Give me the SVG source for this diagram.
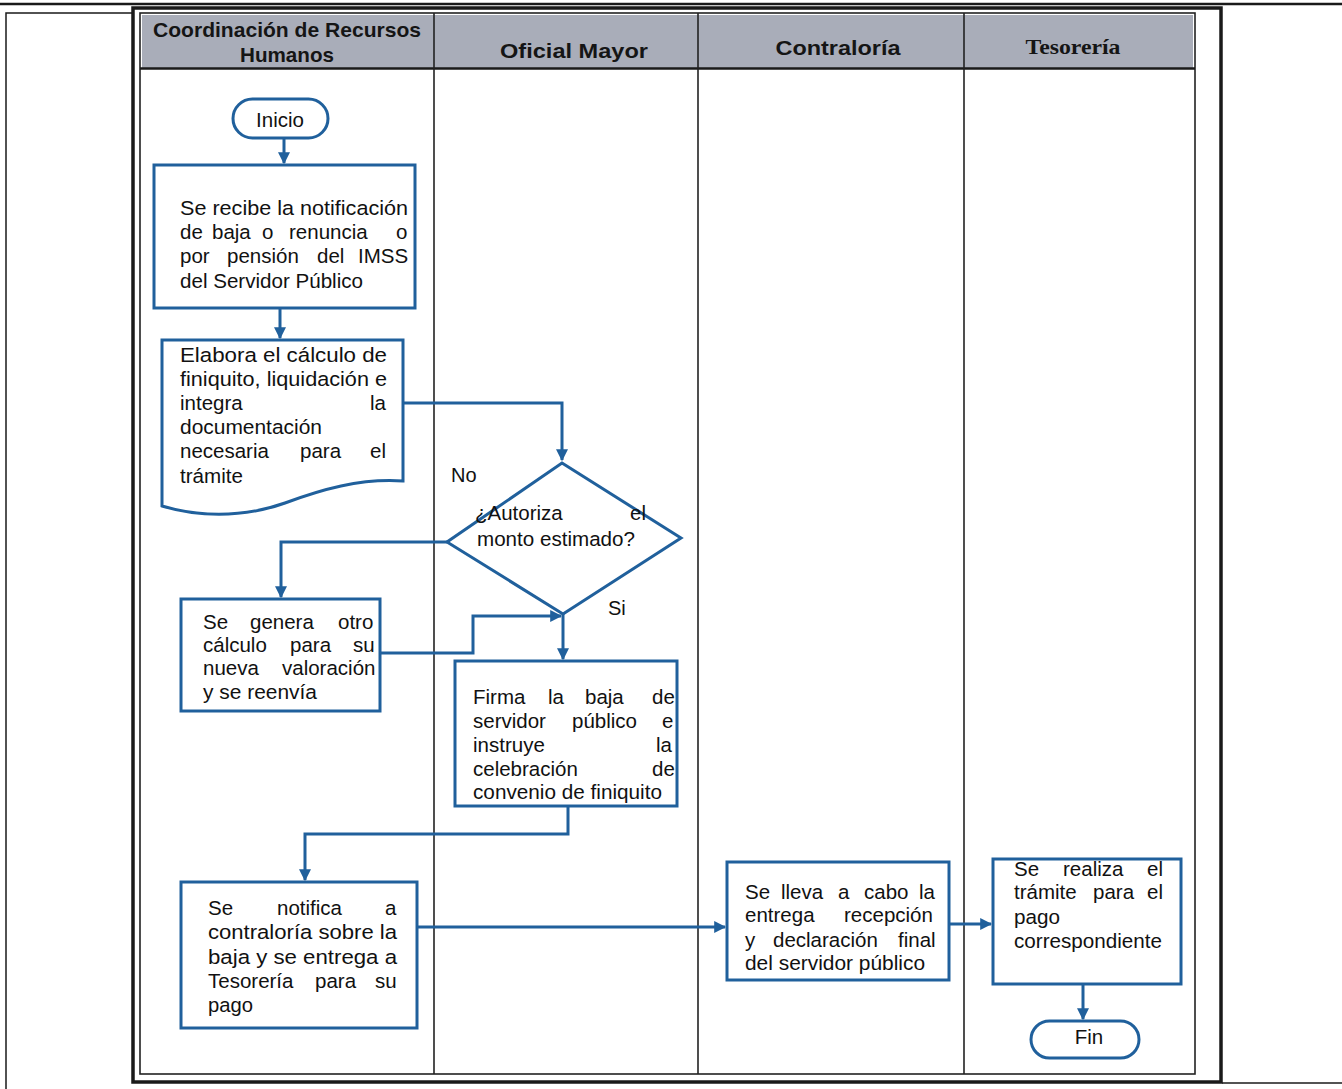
<svg xmlns="http://www.w3.org/2000/svg" width="1342" height="1089" viewBox="0 0 1342 1089">
<style>
.frame{fill:none;stroke:#1a1a1a}
.lane{fill:none;stroke:#222;stroke-width:1.6}
.hdr{fill:#a9adb9;stroke:none}
.ht{font-family:"Liberation Sans Narrow","Liberation Sans",Arial,sans-serif;font-weight:bold;font-size:21px;fill:#151515;text-anchor:middle}
.hts{font-family:"Liberation Serif","Times New Roman",serif;font-weight:bold;font-size:21px;fill:#151515;text-anchor:middle}
.node{fill:#fff;stroke:#20609c;stroke-width:3}
.t{font-family:"Liberation Sans",Arial,sans-serif;font-size:20.5px;fill:#111}
.tc{font-family:"Liberation Sans",Arial,sans-serif;font-size:20.5px;fill:#111;text-anchor:middle}
.conn{fill:none;stroke:#20609c;stroke-width:3}
.lbl{font-family:"Liberation Sans",Arial,sans-serif;font-size:20px;fill:#111}
</style>
<defs>
<marker id="arr" viewBox="0 0 10 10" refX="9" refY="5" markerWidth="12" markerHeight="12" markerUnits="userSpaceOnUse" orient="auto">
<path d="M0,0 L10,5 L0,10 Z" fill="#20609c"/>
</marker>
</defs>
<rect width="1342" height="1089" fill="#fff"/>
<g id="page-frame">
<line x1="0" y1="4" x2="1342" y2="4" class="frame" stroke-width="2.5"/>
<path d="M6,1089 V13 H132" class="frame" stroke-width="1.5"/>
<line x1="1222" y1="1083" x2="1342" y2="1083" class="frame" stroke-width="1.5"/>
</g>
<g id="swimlanes">
<rect x="133" y="8" width="1088" height="1074" class="frame" stroke-width="3.5"/>
<rect x="140" y="13" width="1055" height="1061" class="lane"/>
<rect x="142" y="15" width="1051" height="53" class="hdr"/>
<line x1="140" y1="68.5" x2="1195" y2="68.5" stroke="#1a1a1a" stroke-width="2.5"/>
<line x1="434" y1="13" x2="434" y2="1074" class="lane"/>
<line x1="698" y1="13" x2="698" y2="1074" class="lane"/>
<line x1="964" y1="13" x2="964" y2="1074" class="lane"/>
<text class="ht" x="287" y="37" textLength="268" lengthAdjust="spacingAndGlyphs">Coordinación de Recursos</text>
<text class="ht" x="287" y="62" textLength="94" lengthAdjust="spacingAndGlyphs">Humanos</text>
<text class="ht" x="574" y="58" textLength="148" lengthAdjust="spacingAndGlyphs">Oficial Mayor</text>
<text class="ht" x="838" y="55" textLength="125" lengthAdjust="spacingAndGlyphs">Contraloría</text>
<text class="hts" x="1073" y="54" textLength="95" lengthAdjust="spacingAndGlyphs">Tesorería</text>
</g>
<g id="connectors">
<path class="conn" d="M284,138 V163" marker-end="url(#arr)"/>
<path class="conn" d="M280,308 V338" marker-end="url(#arr)"/>
<path class="conn" d="M403,403 H562 V460" marker-end="url(#arr)"/>
<path class="conn" d="M447,542 H281 V597" marker-end="url(#arr)"/>
<path class="conn" d="M380,653 H473 V616 H561" marker-end="url(#arr)"/>
<path class="conn" d="M563,614 V659" marker-end="url(#arr)"/>
<path class="conn" d="M568,806 V834 H305 V880" marker-end="url(#arr)"/>
<path class="conn" d="M417,927 H725" marker-end="url(#arr)"/>
<path class="conn" d="M949,924 H991" marker-end="url(#arr)"/>
<path class="conn" d="M1083,984 V1019" marker-end="url(#arr)"/>
<text class="lbl" x="451" y="482">No</text>
<text class="lbl" x="608" y="615">Si</text>
</g>
<g id="inicio">
<rect x="233" y="99" width="95" height="39" rx="19.5" class="node"/>
<text class="tc" x="280" y="127">Inicio</text>
</g>
<g id="recibe-notificacion">
<rect x="154" y="165" width="261" height="143" class="node"/>
<text class="t" x="180" y="215" textLength="228" lengthAdjust="spacingAndGlyphs">Se recibe la notificación</text>
<text class="t" y="239"><tspan x="180">de</tspan><tspan x="212">baja</tspan><tspan x="262">o</tspan><tspan x="289">renuncia</tspan><tspan x="396">o</tspan></text>
<text class="t" y="263"><tspan x="180">por</tspan><tspan x="227">pensión</tspan><tspan x="317">del</tspan><tspan x="358">IMSS</tspan></text>
<text class="t" x="180" y="288" textLength="183" lengthAdjust="spacingAndGlyphs">del Servidor Público</text>
</g>
<g id="elabora-calculo">
<path d="M162,340 H403 V481 C360,478 320,490 285,503 C240,519 195,516 162,506 Z" class="node"/>
<text class="t" x="180" y="362" textLength="207" lengthAdjust="spacingAndGlyphs">Elabora el cálculo de</text>
<text class="t" x="180" y="386" textLength="207" lengthAdjust="spacingAndGlyphs">finiquito, liquidación e</text>
<text class="t" y="410"><tspan x="180">integra</tspan><tspan x="370">la</tspan></text>
<text class="t" x="180" y="434" textLength="142" lengthAdjust="spacingAndGlyphs">documentación</text>
<text class="t" y="458"><tspan x="180">necesaria</tspan><tspan x="300">para</tspan><tspan x="370">el</tspan></text>
<text class="t" x="180" y="483" textLength="63" lengthAdjust="spacingAndGlyphs">trámite</text>
</g>
<g id="autoriza">
<path d="M562,463 L681,538 L563,614 L447,542 Z" class="node"/>
<text class="t" y="520"><tspan x="475">¿Autoriza</tspan><tspan x="630">el</tspan></text>
<text class="t" x="477" y="546" textLength="158" lengthAdjust="spacingAndGlyphs">monto estimado?</text>
</g>
<g id="genera-otro-calculo">
<rect x="181" y="599" width="199" height="112" class="node"/>
<text class="t" y="629"><tspan x="203">Se</tspan><tspan x="250">genera</tspan><tspan x="338">otro</tspan></text>
<text class="t" y="652"><tspan x="203">cálculo</tspan><tspan x="290">para</tspan><tspan x="353">su</tspan></text>
<text class="t" y="675"><tspan x="203">nueva</tspan><tspan x="282">valoración</tspan></text>
<text class="t" x="203" y="699" textLength="114" lengthAdjust="spacingAndGlyphs">y se reenvía</text>
</g>
<g id="firma-baja">
<rect x="455" y="661" width="222" height="145" class="node"/>
<text class="t" y="704"><tspan x="473">Firma</tspan><tspan x="548">la</tspan><tspan x="585">baja</tspan><tspan x="652">de</tspan></text>
<text class="t" y="728"><tspan x="473">servidor</tspan><tspan x="572">público</tspan><tspan x="662">e</tspan></text>
<text class="t" y="752"><tspan x="473">instruye</tspan><tspan x="656">la</tspan></text>
<text class="t" y="776"><tspan x="473">celebración</tspan><tspan x="652">de</tspan></text>
<text class="t" x="473" y="799" textLength="189" lengthAdjust="spacingAndGlyphs">convenio de finiquito</text>
</g>
<g id="notifica-contraloria">
<rect x="181" y="882" width="236" height="146" class="node"/>
<text class="t" y="915"><tspan x="208">Se</tspan><tspan x="277">notifica</tspan><tspan x="385">a</tspan></text>
<text class="t" x="208" y="939" textLength="189" lengthAdjust="spacingAndGlyphs">contraloría sobre la</text>
<text class="t" x="208" y="964" textLength="189" lengthAdjust="spacingAndGlyphs">baja y se entrega a</text>
<text class="t" y="988"><tspan x="208">Tesorería</tspan><tspan x="315">para</tspan><tspan x="375">su</tspan></text>
<text class="t" x="208" y="1012" textLength="45" lengthAdjust="spacingAndGlyphs">pago</text>
</g>
<g id="entrega-recepcion">
<rect x="727" y="862" width="222" height="118" class="node"/>
<text class="t" y="899"><tspan x="745">Se</tspan><tspan x="781">lleva</tspan><tspan x="838">a</tspan><tspan x="864">cabo</tspan><tspan x="919">la</tspan></text>
<text class="t" y="922"><tspan x="745">entrega</tspan><tspan x="844">recepción</tspan></text>
<text class="t" y="947"><tspan x="745">y</tspan><tspan x="773">declaración</tspan><tspan x="898">final</tspan></text>
<text class="t" x="745" y="970" textLength="180" lengthAdjust="spacingAndGlyphs">del servidor público</text>
</g>
<g id="tramite-pago">
<rect x="993" y="859" width="188" height="125" class="node"/>
<text class="t" y="876"><tspan x="1014">Se</tspan><tspan x="1063">realiza</tspan><tspan x="1147">el</tspan></text>
<text class="t" y="899"><tspan x="1014">trámite</tspan><tspan x="1093">para</tspan><tspan x="1147">el</tspan></text>
<text class="t" x="1014" y="924" textLength="46" lengthAdjust="spacingAndGlyphs">pago</text>
<text class="t" x="1014" y="948" textLength="148" lengthAdjust="spacingAndGlyphs">correspondiente</text>
</g>
<g id="fin">
<rect x="1031" y="1021" width="108" height="37" rx="18.5" class="node"/>
<text class="tc" x="1089" y="1044">Fin</text>
</g>
</svg>
